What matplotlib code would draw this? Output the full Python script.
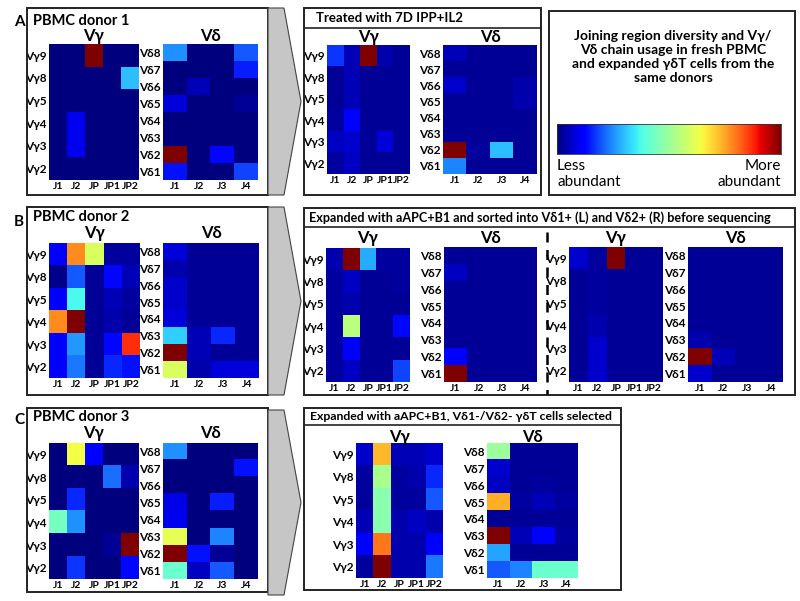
import numpy as np
import matplotlib
matplotlib.use('Agg')
import matplotlib.pyplot as plt
from matplotlib.patches import Rectangle, Polygon
from matplotlib.colors import ListedColormap

plt.rcParams['font.family'] = ['Lato', 'DejaVu Sans']

W, H = 800, 601

# labels
vg_rows = ['Vγ9', 'Vγ8', 'Vγ5', 'Vγ4', 'Vγ3', 'Vγ2']
vg_cols = ['J1', 'J2', 'JP', 'JP1', 'JP2']
vd_rows = ['Vδ8', 'Vδ7', 'Vδ6', 'Vδ5', 'Vδ4', 'Vδ3', 'Vδ2', 'Vδ1']
vd_cols = ['J1', 'J2', 'J3', 'J4']

# A - donor 1
a_pbmc_vg = [[0, 0, 1.0, 0, 0],
             [0, 0, 0, 0, 0.30],
             [0, 0, 0, 0, 0],
             [0, 0.10, 0, 0, 0],
             [0, 0.10, 0, 0, 0],
             [0, 0, 0, 0, 0]]
a_pbmc_vd = [[0.25, 0, 0, 0.20],
             [0, 0, 0, 0.15],
             [0, 0.05, 0, 0],
             [0.08, 0, 0, 0.02],
             [0, 0, 0, 0],
             [0, 0, 0, 0],
             [1.0, 0, 0.13, 0],
             [0.14, 0, 0, 0.18]]
a_exp_vg = [[0.17, 0.05, 1.0, 0.04, 0.02],
            [0.02, 0.05, 0.02, 0.02, 0.02],
            [0.02, 0.05, 0.02, 0.02, 0.02],
            [0.03, 0.12, 0.02, 0.02, 0.02],
            [0.06, 0.07, 0.02, 0.08, 0.02],
            [0.03, 0.06, 0.02, 0.02, 0.02]]
a_exp_vd = [[0.05, 0.02, 0.02, 0.02],
            [0.02, 0.02, 0.02, 0.02],
            [0.07, 0.02, 0.02, 0.04],
            [0.02, 0.02, 0.02, 0.04],
            [0.02, 0.02, 0.02, 0.02],
            [0.02, 0.02, 0.02, 0.02],
            [1.0, 0.03, 0.30, 0.02],
            [0.24, 0.02, 0.02, 0.02]]

# B - donor 2
b_pbmc_vg = [[0.12, 0.78, 0.60, 0.03, 0.03],
             [0.01, 0.20, 0.02, 0.13, 0.05],
             [0.12, 0.37, 0.02, 0.05, 0.03],
             [0.78, 1.0, 0.02, 0.04, 0.02],
             [0.12, 0.26, 0.02, 0.13, 0.87],
             [0.12, 0.23, 0.02, 0.16, 0.14]]
b_pbmc_vd = [[0.08, 0.02, 0.02, 0.02],
             [0.04, 0.02, 0.02, 0.02],
             [0.07, 0.02, 0.02, 0.02],
             [0.07, 0.02, 0.02, 0.02],
             [0.08, 0.02, 0.02, 0.02],
             [0.32, 0.05, 0.16, 0.02],
             [1.0, 0.05, 0.02, 0.02],
             [0.60, 0.04, 0.08, 0.08]]
b_d1_vg = [[0.04, 1.0, 0.28, 0.03, 0.03],
           [0.03, 0.06, 0.02, 0.02, 0.03],
           [0.03, 0.04, 0.02, 0.02, 0.02],
           [0.03, 0.55, 0.02, 0.02, 0.13],
           [0.03, 0.12, 0.02, 0.02, 0.02],
           [0.03, 0.06, 0.02, 0.02, 0.18]]
b_d1_vd = [[0.02, 0.02, 0.02, 0.02],
           [0.06, 0.02, 0.02, 0.02],
           [0.02, 0.02, 0.02, 0.02],
           [0.02, 0.02, 0.02, 0.02],
           [0.02, 0.02, 0.02, 0.02],
           [0.02, 0.02, 0.02, 0.02],
           [0.12, 0.02, 0.02, 0.02],
           [1.0, 0.02, 0.02, 0.02]]
b_d2_vg = [[0.07, 0.03, 1.0, 0.02, 0.02],
           [0.02, 0.03, 0.02, 0.02, 0.02],
           [0.02, 0.03, 0.02, 0.02, 0.02],
           [0.02, 0.04, 0.02, 0.02, 0.02],
           [0.02, 0.07, 0.02, 0.02, 0.02],
           [0.02, 0.07, 0.02, 0.02, 0.02]]
b_d2_vd = [[0.02, 0.02, 0.02, 0.02],
           [0.02, 0.02, 0.02, 0.02],
           [0.02, 0.02, 0.02, 0.02],
           [0.02, 0.02, 0.02, 0.02],
           [0.02, 0.02, 0.02, 0.02],
           [0.04, 0.02, 0.02, 0.02],
           [1.0, 0.05, 0.02, 0.02],
           [0.07, 0.02, 0.02, 0.02]]

# C - donor 3
c_pbmc_vg = [[0, 0.64, 0.12, 0, 0],
             [0, 0, 0, 0.22, 0.04],
             [0, 0.16, 0, 0, 0],
             [0.44, 0.25, 0, 0, 0],
             [0, 0, 0, 0.02, 1.0],
             [0, 0.17, 0, 0, 0.13]]
c_pbmc_vd = [[0.25, 0, 0, 0],
             [0, 0, 0, 0.14],
             [0, 0, 0, 0],
             [0.09, 0, 0.15, 0],
             [0.10, 0, 0, 0],
             [0.62, 0, 0.24, 0],
             [1.0, 0.14, 0.02, 0],
             [0.42, 0.06, 0.20, 0]]
c_exp_vg = [[0.07, 0.73, 0.05, 0.05, 0.07],
            [0.03, 0.52, 0.03, 0.04, 0.16],
            [0.03, 0.47, 0.03, 0.03, 0.20],
            [0.05, 0.47, 0.04, 0.06, 0.04],
            [0.12, 0.80, 0.04, 0.04, 0.12],
            [0.03, 1.0, 0.04, 0.04, 0.23]]
c_exp_vd = [[0.50, 0.02, 0.02, 0.02],
            [0.07, 0.02, 0.02, 0.02],
            [0.06, 0.02, 0.03, 0.02],
            [0.74, 0.03, 0.05, 0.03],
            [0.02, 0.02, 0.02, 0.02],
            [1.0, 0.05, 0.12, 0.03],
            [0.27, 0.02, 0.02, 0.02],
            [0.20, 0.24, 0.42, 0.42]]

# jet, a bit washed out in the bright part like the scanned figure
jc = plt.get_cmap('jet')(np.linspace(0, 1, 256))
f = 0.25 * jc[:, 1:2]
jc[:, :3] = jc[:, :3] * (1 - f) + f
cmap = ListedColormap(jc)

fig = plt.figure(figsize=(W / 100, H / 100), dpi=100)
fig.patch.set_facecolor('white')


def fx(x):
    return x / W


def fy(y):
    return 1 - y / H


def box(x0, y0, x1, y1, lw=1.4):
    fig.patches.append(Rectangle((fx(x0), fy(y1)), fx(x1) - fx(x0), fy(y0) - fy(y1),
                                 transform=fig.transFigure, fill=False,
                                 edgecolor='#222222', linewidth=lw))


def hline(x0, x1, y, lw=1.2):
    fig.add_artist(plt.Line2D([fx(x0), fx(x1)], [fy(y), fy(y)], color='#222222', lw=lw))


def arrow(y0, y1):
    ym = (y0 + y1) / 2
    pts = [(fx(268), fy(y0)), (fx(284), fy(y0)), (fx(301), fy(ym)),
           (fx(284), fy(y1)), (fx(268), fy(y1))]
    fig.patches.append(Polygon(pts, closed=True, transform=fig.transFigure,
                               facecolor='#c6c6c6', edgecolor='#444444', linewidth=0.8))


def text(x, y, s, size=10, weight='bold', ha='left', va='center'):
    fig.text(fx(x), fy(y), s, fontsize=size, fontweight=weight, ha=ha, va=va)


def heat(data, rows, cols, x0, y0, x1, y1, title=None, ty=None):
    ax = fig.add_axes([fx(x0), fy(y1), fx(x1) - fx(x0), fy(y0) - fy(y1)])
    ax.imshow(np.array(data), cmap=cmap, vmin=0, vmax=1, aspect='auto',
              interpolation='nearest')
    ax.set_xticks(range(len(cols)))
    ax.set_xticklabels(cols, fontsize=7.5, fontweight='bold')
    ax.set_yticks(range(len(rows)))
    ax.set_yticklabels(rows, fontsize=8.5, fontweight='bold')
    ax.tick_params(length=0, pad=1.5)
    for sp in ax.spines.values():
        sp.set_visible(False)
    if title:
        text((x0 + x1) / 2, ty, title, size=12, ha='center')
    return ax


# ---------- Panel A ----------
text(14, 22, 'A', size=11)
box(27, 8, 268, 195)
text(33, 21, 'PBMC donor 1', size=10.5)
heat(a_pbmc_vg, vg_rows, vg_cols, 49, 44, 139, 180, 'Vγ', 36)
heat(a_pbmc_vd, vd_rows, vd_cols, 163, 44, 258, 180, 'Vδ', 36)
arrow(8, 195)

box(304, 8, 541, 195)
hline(304, 541, 28)
text(316, 18, 'Treated with 7D IPP+IL2', size=9.5)
heat(a_exp_vg, vg_rows, vg_cols, 327, 45, 410, 174, 'Vγ', 37)
heat(a_exp_vd, vd_rows, vd_cols, 443, 45, 537, 174, 'Vδ', 37)

# legend box
box(549, 11, 795, 195)
text(673, 57, 'Joining region diversity and Vγ/\nVδ chain usage in fresh PBMC\nand expanded γδT cells from the\nsame donors',
     size=10, ha='center', va='center')
cax = fig.add_axes([fx(557), fy(154), fx(781) - fx(557), fy(124) - fy(154)])
cax.imshow(np.linspace(0, 1, 256)[None, :], cmap=cmap, aspect='auto')
cax.set_xticks([])
cax.set_yticks([])
for sp in cax.spines.values():
    sp.set_color('#333333')
    sp.set_linewidth(0.6)
text(557, 174, 'Less\nabundant', size=11, weight='normal', ha='left')
text(781, 174, 'More\nabundant', size=11, weight='normal', ha='right')

# ---------- Panel B ----------
text(14, 222, 'B', size=11)
box(27, 207, 268, 395)
text(33, 217, 'PBMC donor 2', size=10.5)
heat(b_pbmc_vg, vg_rows, vg_cols, 49, 243, 140, 378, 'Vγ', 233)
heat(b_pbmc_vd, vd_rows, vd_cols, 163, 243, 259, 378, 'Vδ', 233)
arrow(207, 395)

box(304, 208, 795, 395)
hline(304, 795, 227)
text(309, 218, 'Expanded with aAPC+B1 and sorted into Vδ1+ (L) and Vδ2+ (R) before sequencing',
     size=9.1)
heat(b_d1_vg, vg_rows, vg_cols, 326, 248, 410, 382, 'Vγ', 238)
heat(b_d1_vd, vd_rows, vd_cols, 444, 247, 537, 382, 'Vδ', 238)
fig.add_artist(plt.Line2D([fx(547), fx(547)], [fy(232), fy(394)], color='black',
                          lw=1.8, ls=(0, (4, 3))))
heat(b_d2_vg, vg_rows, vg_cols, 569, 247, 663, 382, 'Vγ', 238)
heat(b_d2_vd, vd_rows, vd_cols, 688, 247, 783, 382, 'Vδ', 238)

# ---------- Panel C ----------
text(14, 420, 'C', size=11)
box(27, 408, 268, 592)
text(33, 417, 'PBMC donor 3', size=10.5)
heat(c_pbmc_vg, vg_rows, vg_cols, 49, 443, 139, 579, 'Vγ', 433)
heat(c_pbmc_vd, vd_rows, vd_cols, 163, 443, 258, 579, 'Vδ', 433)
arrow(410, 595)

box(304, 408, 621, 590)
hline(304, 621, 425)
text(310, 416, 'Expanded with aAPC+B1, Vδ1-/Vδ2- γδT cells selected', size=8.8)
heat(c_exp_vg, vg_rows, vg_cols, 356, 443, 443, 578, 'Vγ', 437)
heat(c_exp_vd, vd_rows, vd_cols, 487, 443, 578, 578, 'Vδ', 437)

fig.savefig('out.png', dpi=100)
